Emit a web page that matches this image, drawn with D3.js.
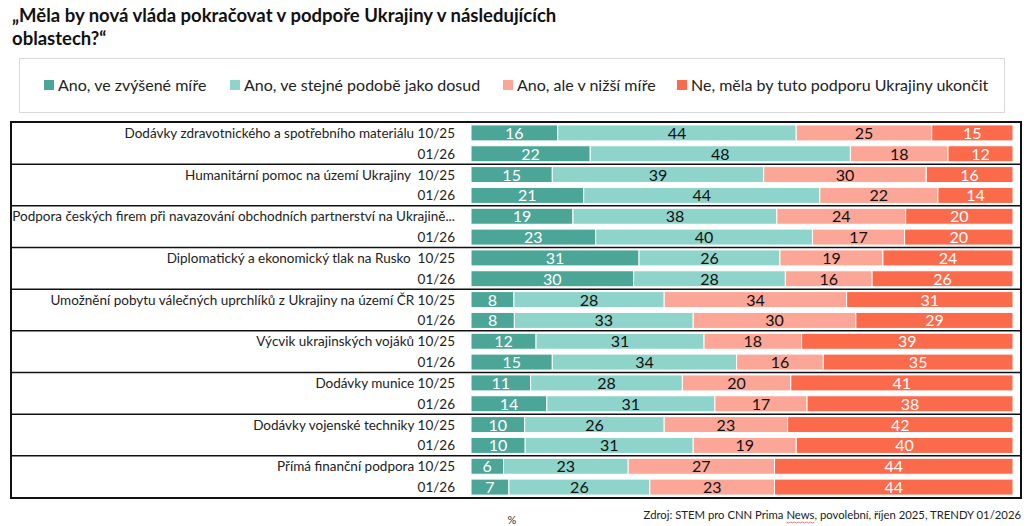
<!DOCTYPE html>
<html>
<head>
<meta charset="utf-8">
<script src="https://cdn.jsdelivr.net/npm/d3@7"></script>
<style>
  body { margin: 0; background: #fff; }
  svg { font-family: Lato, "Open Sans", sans-serif; }
</style>
</head>
<body>
<svg id="chart" width="1033" height="526"></svg>
<script>
/* Stacked 100% bars: support for Ukraine, 10/25 vs 01/26 */

var seriesNames = ["Ano, ve zvýšené míře", "Ano, ve stejné podobě jako dosud", "Ano, ale v nižší míře", "Ne, měla by tuto podporu Ukrajiny ukončit"];
var seriesColors = ["#4ca697", "#8ed4ca", "#fba696", "#fc6a4c"];
var labelColors = ["#fff", "#111", "#111", "#fff"];

var rowLabels = [
    "Dodávky zdravotnického a spotřebního materiálu 10/25", "01/26",
    "Humanitární pomoc na území Ukrajiny  10/25", "01/26",
    "Podpora českých firem při navazování obchodních partnerství na Ukrajině...", "01/26",
    "Diplomatický a ekonomický tlak na Rusko  10/25", "01/26",
    "Umožnění pobytu válečných uprchlíků z Ukrajiny na území ČR 10/25", "01/26",
    "Výcvik ukrajinských vojáků 10/25", "01/26",
    "Dodávky munice 10/25", "01/26",
    "Dodávky vojenské techniky 10/25", "01/26",
    "Přímá finanční podpora 10/25", "01/26"
];

var increased = [16, 22, 15, 21, 19, 23, 31, 30, 8, 8, 12, 15, 11, 14, 10, 10, 6, 7];
var same      = [44, 48, 39, 44, 38, 40, 26, 28, 28, 33, 31, 34, 28, 31, 26, 31, 23, 26];
var lower     = [25, 18, 30, 22, 24, 17, 19, 16, 34, 30, 18, 16, 20, 17, 23, 19, 27, 23];
var stop      = [15, 12, 16, 14, 20, 20, 24, 26, 31, 29, 39, 35, 41, 38, 42, 40, 44, 44];

var rows = rowLabels.map(function(l, i) {
    return {label: l, values: [increased[i], same[i], lower[i], stop[i]]};
});

var svg = d3.select("#chart");

/* Title */
var title = svg.append("text")
    .attr("x", 12)
    .attr("y", 22)
    .attr("font-size", 18.5)
    .attr("font-weight", "bold")
    .attr("fill", "#111");
title.append("tspan").text("„Měla by nová vláda pokračovat v podpoře Ukrajiny v následujících");
title.append("tspan").attr("x", 12).attr("dy", 23).text("oblastech?“");

/* Legend box */
svg.append("rect")
    .attr("x", 19.5).attr("y", 58.5)
    .attr("width", 985).attr("height", 54)
    .attr("fill", "#fff")
    .attr("stroke", "#d9d9d9");

var legendX = [44, 230, 503, 677];
var legend = svg.selectAll("g.legend")
    .data(seriesNames)
    .enter()
    .append("g")
    .attr("class", "legend")
    .attr("transform", (d, i) => "translate(" + legendX[i] + ",85)");
legend.append("rect")
    .attr("x", 0).attr("y", -5)
    .attr("width", 10).attr("height", 10)
    .attr("fill", (d, i) => seriesColors[i]);
legend.append("text")
    .attr("x", 14)
    .attr("y", 6)
    .attr("font-size", 16)
    .attr("fill", "#222")
    .text(d => d);

/* Scales */
var x = d3.scaleLinear().domain([0, 100]).range([471, 1013]);
var y = d3.scaleBand().domain(d3.range(rows.length)).range([122.5, 497.5]);
var barH = 16;

/* Rows */
var rowG = svg.selectAll("g.row")
    .data(rows)
    .enter()
    .append("g")
    .attr("class", "row")
    .attr("transform", (d, i) => "translate(0," + (y(i) + y.bandwidth() / 2) + ")");

rowG.append("text")
    .attr("x", 455)
    .attr("y", 5)
    .attr("text-anchor", "end")
    .attr("font-size", 13.5)
    .attr("fill", "#222")
    .style("white-space", "pre")
    .text(d => d.label);

rowG.each(function(d) {
    var total = d3.sum(d.values);
    var acc = 0;
    var segs = d.values.map(function(v, k) {
        var s = {k: k, v: v, x0: acc / total * 100, x1: (acc + v) / total * 100};
        acc += v;
        return s;
    });
    var g = d3.select(this);
    g.selectAll("rect.seg")
        .data(segs)
        .enter()
        .append("rect")
        .attr("class", "seg")
        .attr("x", s => x(s.x0))
        .attr("y", -barH / 2)
        .attr("width", s => x(s.x1) - x(s.x0))
        .attr("height", barH)
        .attr("fill", s => seriesColors[s.k])
        .attr("stroke", "#fff")
        .attr("stroke-width", 1);
    g.selectAll("text.val")
        .data(segs)
        .enter()
        .append("text")
        .attr("class", "val")
        .attr("x", s => (x(s.x0) + x(s.x1)) / 2)
        .attr("y", 6)
        .attr("text-anchor", "middle")
        .attr("font-size", 16)
        .attr("fill", s => labelColors[s.k])
        .text(s => s.v);
});

/* Group separators and outer frame */
var groups = d3.range(1, rows.length / 2);
svg.selectAll("line.sep")
    .data(groups)
    .enter()
    .append("line")
    .attr("class", "sep")
    .attr("x1", 11).attr("x2", 1021)
    .attr("y1", g => y(g * 2))
    .attr("y2", g => y(g * 2))
    .attr("stroke", "#111")
    .attr("stroke-width", 1.5);

svg.append("rect")
    .attr("x", 11).attr("y", 122)
    .attr("width", 1010).attr("height", 376)
    .attr("fill", "none")
    .attr("stroke", "#111")
    .attr("stroke-width", 2);

/* Footer */
var src = svg.append("text")
    .attr("x", 1021)
    .attr("y", 519)
    .attr("text-anchor", "end")
    .attr("font-size", 11.3)
    .attr("fill", "#222");
src.append("tspan").text("Zdroj: STEM pro CNN Prima ");
src.append("tspan").attr("class", "news").text("News");
src.append("tspan").text(", povolební, říjen 2025, TRENDY 01/2026");

// spell-check squiggle under "News"
var nb = src.select("tspan.news").node();
var n0 = nb.getStartPositionOfChar(0).x;
var n1 = nb.getEndPositionOfChar(3).x;
var pts = d3.range(n0, n1, 2).map((px, i) => [px, 522 + (i % 2 ? 1 : 0)]);
svg.append("path")
    .attr("d", d3.line()(pts))
    .attr("fill", "none")
    .attr("stroke", "#e05a5a")
    .attr("stroke-width", 0.8);

svg.append("text")
    .attr("x", 512)
    .attr("y", 524)
    .attr("text-anchor", "middle")
    .attr("font-size", 11)
    .attr("fill", "#333")
    .text("%");
</script>
</body>
</html>
